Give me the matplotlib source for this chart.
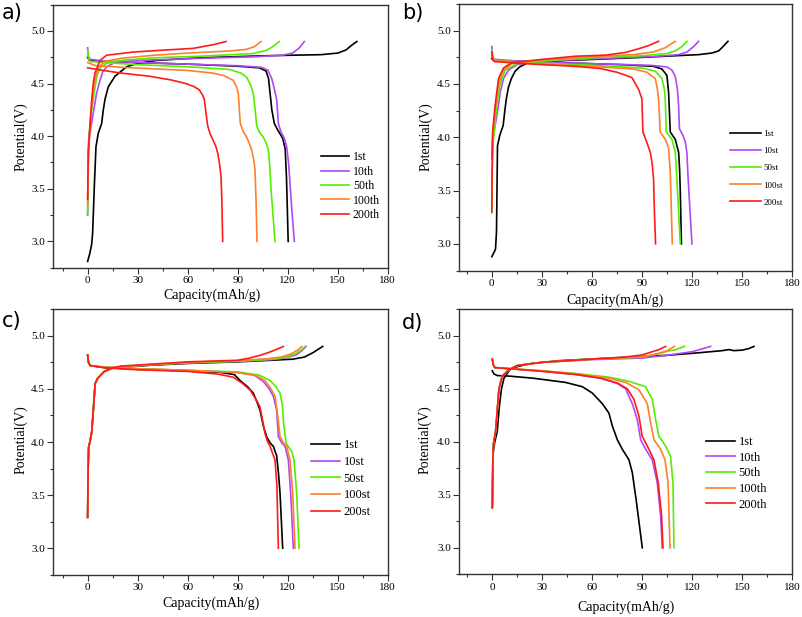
import matplotlib
matplotlib.use('Agg')
import matplotlib.pyplot as plt
from matplotlib.ticker import MultipleLocator

# ---------------- data: (capacity mAh/g, potential V) ----------------
# panel a
a1_chg = [(0, 2.81), (1.2, 2.88), (2.4, 2.97), (3, 3.08), (3.5, 3.3), (4, 3.52), (5, 3.9), (6.4, 4.03), (8.4, 4.12),
          (9.4, 4.25), (10.4, 4.35), (12.4, 4.47), (16.4, 4.57), (23.4, 4.66), (29.4, 4.69), (41, 4.72), (67, 4.745),
          (107, 4.765), (140, 4.775), (150, 4.79), (155, 4.82), (158, 4.86), (161.5, 4.90)]
a1_dis = [(0, 4.75), (1, 4.72), (10, 4.71), (30, 4.70), (60, 4.685), (90, 4.665), (103, 4.65), (107, 4.62), (108.5, 4.55),
          (109.5, 4.40), (110.5, 4.25), (112, 4.12), (114, 4.06), (117, 3.98), (118.5, 3.88), (119.3, 3.60), (120.3, 3.0)]
a10_chg = [(0, 3.25), (0.3, 3.6), (0.5, 3.87), (1.4, 4.03), (3.4, 4.22), (5.4, 4.41), (7.4, 4.53), (9, 4.61), (11.4, 4.66),
           (17, 4.705), (30, 4.72), (67, 4.74), (100, 4.755), (117, 4.77), (123, 4.79), (127, 4.84), (130, 4.90)]
a10_dis = [(0, 4.84), (0.5, 4.76), (1.5, 4.73), (10, 4.715), (30, 4.70), (60, 4.685), (90, 4.67), (104, 4.655), (108, 4.63),
           (110.4, 4.55), (112, 4.45), (113.4, 4.35), (114.4, 4.12), (116, 4.04), (118, 3.98), (119.4, 3.9), (120.5, 3.75),
           (121.2, 3.6), (122.5, 3.3), (124, 3.0)]
a50_chg = [(0, 3.26), (0.3, 3.7), (0.6, 3.95), (2, 4.2), (4, 4.42), (5.5, 4.57), (7.4, 4.65), (12, 4.70), (20, 4.72),
           (40, 4.745), (67, 4.76), (99, 4.785), (107, 4.815), (111, 4.85), (115, 4.90)]
a50_dis = [(0, 4.82), (0.5, 4.74), (1.5, 4.71), (10, 4.70), (30, 4.68), (60, 4.66), (85, 4.635), (92, 4.60), (95.4, 4.56),
           (98, 4.48), (99.4, 4.40), (100.5, 4.25), (101.4, 4.10), (103, 4.04), (105.4, 3.99), (107, 3.94), (108.4, 3.87),
           (109.3, 3.70), (110, 3.5), (112.4, 3.0)]
a100_chg = [(0, 3.35), (0.3, 3.75), (0.6, 3.95), (2, 4.22), (4, 4.5), (6, 4.64), (10, 4.71), (20, 4.74), (40, 4.77),
            (60, 4.79), (85, 4.81), (95, 4.825), (100, 4.85), (104, 4.90)]
a100_dis = [(0, 4.70), (5, 4.67), (20, 4.655), (40, 4.64), (60, 4.625), (75, 4.60), (82, 4.575), (87.4, 4.53), (89.5, 4.46),
            (90.4, 4.40), (91, 4.25), (91.6, 4.12), (93.5, 4.04), (95.4, 3.99), (97, 3.93), (98.4, 3.87), (99.6, 3.78),
            (100.4, 3.68), (101, 3.4), (101.6, 3.0)]
a200_chg = [(0, 3.4), (0.4, 3.85), (1, 4.0), (2.4, 4.34), (3.5, 4.52), (4.4, 4.60), (7.4, 4.72), (11.4, 4.77), (27.4, 4.80),
            (47.4, 4.82), (63.4, 4.835), (75.4, 4.87), (83, 4.90)]
a200_dis = [(0, 4.65), (7.4, 4.63), (20, 4.60), (37, 4.57), (50, 4.535), (59, 4.50), (64, 4.47), (67, 4.44), (69, 4.39),
            (70, 4.35), (71, 4.22), (72, 4.10), (73.5, 4.02), (75, 3.97), (77, 3.9), (78, 3.84), (79.3, 3.72), (80, 3.62),
            (80.5, 3.4), (81, 3.0)]

# panel b
b1_chg = [(0, 2.88), (1, 2.91), (2.2, 2.95), (2.8, 3.11), (3.1, 3.5), (3.4, 3.92), (4.8, 4.02), (6.8, 4.11), (7.8, 4.25),
          (8.7, 4.36), (10, 4.47), (11.7, 4.55), (14, 4.62), (16.7, 4.66), (21.7, 4.70), (44.5, 4.72), (84, 4.745),
          (124, 4.775), (132, 4.79), (136, 4.81), (138, 4.84), (141.6, 4.90)]
b1_dis = [(0, 4.74), (1, 4.72), (20, 4.71), (50, 4.695), (80, 4.68), (97, 4.665), (102, 4.64), (105, 4.58), (106, 4.42),
          (106.6, 4.2), (107, 4.05), (110, 3.98), (112, 3.86), (112.6, 3.7), (113, 3.5), (113.7, 3.0)]
b10_chg = [(0, 3.8), (0.5, 3.95), (1, 4.02), (3, 4.2), (5, 4.42), (7, 4.55), (10, 4.63), (15, 4.68), (25, 4.71),
           (60, 4.735), (100, 4.76), (112, 4.775), (117, 4.80), (121, 4.85), (124, 4.90)]
b10_dis = [(0, 4.85), (0.5, 4.76), (1.5, 4.73), (20, 4.71), (60, 4.69), (95, 4.675), (105, 4.66), (108, 4.63), (110, 4.57),
           (111.3, 4.45), (112, 4.3), (112.5, 4.08), (114.5, 4.02), (116, 3.96), (117, 3.85), (117.6, 3.65), (118.5, 3.4),
           (120, 3.0)]
b50_chg = [(0, 3.29), (0.3, 3.7), (0.8, 3.95), (3, 4.3), (5, 4.5), (8, 4.63), (15, 4.69), (30, 4.715), (60, 4.745),
           (90, 4.765), (105, 4.785), (110, 4.81), (114, 4.85), (117, 4.90)]
b50_dis = [(0, 4.82), (0.5, 4.75), (1.5, 4.72), (30, 4.695), (60, 4.675), (90, 4.65), (98, 4.62), (102, 4.55),
           (103.5, 4.45), (104, 4.36), (104.6, 4.05), (108, 3.98), (110, 3.86), (111, 3.6), (112, 3.3), (113, 3.0)]
b100_chg = [(0, 3.85), (0.6, 4.05), (2, 4.25), (4, 4.5), (7, 4.63), (12, 4.69), (30, 4.725), (60, 4.755), (85, 4.775),
            (97, 4.80), (104, 4.84), (110, 4.90)]
b100_dis = [(0, 4.80), (0.5, 4.74), (1.5, 4.72), (30, 4.685), (60, 4.665), (85, 4.64), (93, 4.61), (98, 4.55),
            (99.3, 4.45), (100, 4.36), (101, 4.05), (104, 3.98), (106, 3.9), (107, 3.67), (107.5, 3.4), (108.2, 3.0)]
b200_chg = [(0, 3.3), (0.2, 3.7), (0.5, 4.05), (2, 4.3), (4, 4.55), (7, 4.65), (12, 4.70), (30, 4.73), (50, 4.76),
            (68, 4.77), (80, 4.795), (88, 4.83), (94, 4.86), (100, 4.90)]
b200_dis = [(0, 4.80), (0.5, 4.73), (1.5, 4.71), (20, 4.69), (50, 4.665), (65, 4.645), (75, 4.61), (84, 4.56), (88, 4.45),
            (90, 4.36), (90.6, 4.05), (93, 3.95), (95, 3.86), (96.2, 3.75), (97, 3.6), (97.5, 3.3), (98.2, 3.0)]

# panel c
c1_chg = [(0, 3.29), (0.3, 3.75), (0.6, 3.95), (1.5, 4.01), (2.5, 4.1), (3.5, 4.32), (4.5, 4.55), (6, 4.6), (10, 4.665),
          (15, 4.695), (20, 4.705), (40, 4.725), (60, 4.74), (90, 4.755), (110, 4.77), (123, 4.78), (130, 4.80),
          (135, 4.84), (141, 4.90)]
c10_chg = [(0, 3.29), (0.3, 3.75), (0.6, 3.95), (1.5, 4.01), (2.5, 4.1), (3.5, 4.32), (4.5, 4.55), (6, 4.6), (10, 4.665),
           (15, 4.695), (20, 4.705), (40, 4.73), (60, 4.745), (90, 4.76), (110, 4.775), (118, 4.79), (125, 4.82),
           (128.5, 4.86), (131, 4.90)]
c50_chg = [(0, 3.29), (0.3, 3.75), (0.6, 3.95), (1.5, 4.01), (2.5, 4.1), (3.5, 4.32), (4.5, 4.55), (6, 4.6), (10, 4.665),
           (15, 4.695), (20, 4.71), (40, 4.73), (60, 4.745), (90, 4.76), (110, 4.78), (118, 4.795), (124, 4.825),
           (128, 4.865), (130.4, 4.90)]
c100_chg = [(0, 3.29), (0.3, 3.75), (0.6, 3.95), (1.5, 4.01), (2.5, 4.1), (3.5, 4.32), (4.5, 4.55), (6, 4.6), (10, 4.665),
            (15, 4.695), (20, 4.71), (40, 4.73), (60, 4.75), (90, 4.765), (108, 4.785), (116, 4.80), (122, 4.83),
            (126, 4.865), (128.4, 4.90)]
c200_chg = [(0, 3.29), (0.3, 3.75), (0.6, 3.95), (1.5, 4.01), (2.5, 4.1), (3.5, 4.32), (4.5, 4.55), (6, 4.6), (10, 4.665),
            (15, 4.70), (20, 4.715), (40, 4.735), (60, 4.755), (90, 4.77), (97, 4.79), (103, 4.815), (108, 4.84),
            (113, 4.87), (117.4, 4.90)]
c1_dis = [(0, 4.82), (0.5, 4.75), (1.5, 4.72), (10, 4.70), (30, 4.685), (60, 4.67), (80, 4.655), (88, 4.635), (91.4, 4.58),
          (96, 4.52), (99.4, 4.46), (101.5, 4.38), (103.4, 4.30), (105.4, 4.15), (107.4, 4.05), (109.5, 3.99),
          (111.4, 3.96), (113.4, 3.87), (114.5, 3.7), (115.4, 3.52), (117, 3.0)]
c10_dis = [(0, 4.82), (0.5, 4.75), (1.5, 4.72), (10, 4.705), (30, 4.69), (60, 4.675), (90, 4.655), (100, 4.63),
           (105.4, 4.57), (109, 4.5), (111.4, 4.43), (113.4, 4.30), (114.4, 4.05), (116.5, 3.99), (118.4, 3.96),
           (120.4, 3.83), (121.8, 3.52), (123.4, 3.0)]
c50_dis = [(0, 4.82), (0.5, 4.75), (1.5, 4.72), (10, 4.705), (30, 4.69), (60, 4.675), (90, 4.66), (103, 4.63),
           (109.4, 4.58), (113, 4.52), (115.4, 4.46), (116.8, 4.35), (117.4, 4.2), (119, 3.99), (122.4, 3.91),
           (123.8, 3.83), (125.4, 3.52), (126.8, 3.0)]
c100_dis = [(0, 4.82), (0.5, 4.75), (1.5, 4.72), (10, 4.705), (30, 4.69), (60, 4.675), (90, 4.655), (101, 4.625),
            (106.4, 4.58), (110, 4.5), (112.4, 4.43), (114.4, 4.2), (115.4, 4.05), (117.5, 3.99), (119.4, 3.96),
            (121.4, 3.83), (123, 3.52), (124.4, 3.0)]
c200_dis = [(0, 4.82), (0.5, 4.75), (1.5, 4.72), (10, 4.70), (30, 4.68), (60, 4.665), (78, 4.64), (87.4, 4.61), (93, 4.55),
            (97.4, 4.49), (101, 4.4), (103.4, 4.33), (105, 4.2), (106.4, 4.08), (108, 4.0), (109.4, 3.96), (112.4, 3.83),
            (113.5, 3.6), (114.4, 3.0)]

# panel d
d1_chg = [(0, 3.38), (0.5, 3.9), (1.5, 4.0), (3, 4.1), (4, 4.3), (5.5, 4.5), (7, 4.6), (10.5, 4.68), (15, 4.71), (24, 4.74),
          (40, 4.765), (64, 4.785), (85, 4.80), (104, 4.815), (124, 4.84), (138, 4.86), (142, 4.87), (145, 4.86),
          (150, 4.865), (154, 4.88), (157, 4.90)]
d1_dis = [(0, 4.67), (1, 4.64), (3, 4.625), (10, 4.62), (24.5, 4.60), (44, 4.56), (54, 4.52), (60, 4.46), (63, 4.41),
          (66, 4.36), (70, 4.27), (72, 4.15), (75, 4.02), (78, 3.93), (82, 3.83), (84, 3.71), (86.5, 3.43), (90, 3.0)]
d10_chg = [(0, 3.38), (0.3, 3.8), (0.7, 3.98), (2, 4.1), (3, 4.3), (4, 4.5), (6, 4.62), (10, 4.68), (15, 4.72), (30, 4.75),
           (60, 4.775), (90, 4.79), (104, 4.815), (120, 4.85), (131, 4.90)]
d10_dis = [(0, 4.78), (0.5, 4.73), (1.5, 4.70), (10, 4.69), (30, 4.665), (50, 4.635), (65, 4.60), (75, 4.55), (80, 4.50),
           (84, 4.36), (87, 4.21), (89, 4.02), (92, 3.93), (96, 3.83), (99, 3.61), (101, 3.3), (102, 3.0)]
d50_chg = [(0, 3.38), (0.3, 3.8), (0.7, 3.98), (2, 4.1), (3, 4.3), (4, 4.5), (6, 4.62), (10, 4.68), (15, 4.72), (30, 4.75),
           (60, 4.78), (90, 4.80), (100, 4.83), (104, 4.85), (110, 4.87), (115.3, 4.90)]
d50_dis = [(0, 4.78), (0.5, 4.73), (1.5, 4.70), (10, 4.69), (30, 4.67), (50, 4.645), (70, 4.61), (82, 4.57), (92, 4.52),
           (96, 4.40), (98, 4.21), (100, 4.05), (104, 3.96), (107, 3.86), (108.4, 3.61), (109, 3.0)]
d100_chg = [(0, 3.38), (0.3, 3.8), (0.7, 3.98), (2, 4.1), (3, 4.3), (4, 4.5), (6, 4.62), (10, 4.68), (15, 4.72), (30, 4.75),
            (60, 4.78), (90, 4.80), (100, 4.835), (105, 4.86), (109.3, 4.90)]
d100_dis = [(0, 4.78), (0.5, 4.73), (1.5, 4.70), (10, 4.69), (30, 4.67), (50, 4.64), (70, 4.60), (80, 4.56), (88, 4.49),
            (93, 4.36), (95, 4.18), (97, 4.02), (101, 3.93), (103.6, 3.83), (105.5, 3.61), (106.6, 3.0)]
d200_chg = [(0, 3.38), (0.3, 3.8), (0.7, 3.98), (2, 4.1), (3, 4.3), (4, 4.5), (6, 4.62), (10, 4.68), (15, 4.72), (30, 4.75),
            (60, 4.78), (80, 4.80), (90, 4.82), (96, 4.85), (100, 4.87), (104, 4.90)]
d200_dis = [(0, 4.78), (0.5, 4.73), (1.5, 4.70), (10, 4.69), (30, 4.665), (50, 4.635), (65, 4.60), (75, 4.555), (81, 4.50),
            (85, 4.40), (88, 4.24), (90, 4.05), (93, 3.96), (97, 3.83), (99.6, 3.61), (101.6, 3.3), (102.4, 3.0)]

labels_th = ['1st', '10th', '50th', '100th', '200th']
labels_st = ['1st', '10st', '50st', '100st', '200st']
colors = ['#000000', '#B048F5', '#55EE00', '#FF7F2A', '#FF1A1A']

# ---------------- layout (pixels of the 803x617 picture) ----------------
W, H = 803, 617
serif = 'Liberation Serif'


def fx(x):
    return x / W


def fy(y):
    return 1 - y / H


fig = plt.figure(figsize=(W / 100, H / 100), dpi=100)


def make_panel(box, xlim, curves, labels, tag, tag_xy, xlab_xy, ylab_xy, leg):
    left, top, right, bottom = box
    ax = fig.add_axes([fx(left), fy(bottom), (right - left) / W, (bottom - top) / H])
    for (chg, dis), lab, col in zip(curves, labels, colors):
        ax.plot([p[0] for p in chg], [p[1] for p in chg], color=col, lw=1.2, label=lab)
        ax.plot([p[0] for p in dis], [p[1] for p in dis], color=col, lw=1.2)
    ax.set_xlim(*xlim)
    ax.set_ylim(2.75, 5.25)
    ax.xaxis.set_major_locator(MultipleLocator(30))
    ax.xaxis.set_minor_locator(MultipleLocator(15))
    ax.yaxis.set_major_locator(MultipleLocator(0.5))
    ax.yaxis.set_minor_locator(MultipleLocator(0.25))
    ax.set_xticks([0, 30, 60, 90, 120, 150, 180])
    ax.set_yticks([3.0, 3.5, 4.0, 4.5, 5.0])
    ax.tick_params(which='major', direction='out', length=4, width=0.8, labelsize=8, pad=2, color='#333333')
    ax.tick_params(which='minor', direction='out', length=2.5, width=0.8, color='#333333')
    for lbl in ax.get_xticklabels() + ax.get_yticklabels():
        lbl.set_fontfamily(serif)
    for s in ax.spines.values():
        s.set_linewidth(1.0)
        s.set_color('#333333')
    fig.text(fx(xlab_xy[0]), fy(xlab_xy[1]), 'Capacity(mAh/g)', family=serif, fontsize=10, ha='center', va='center')
    fig.text(fx(ylab_xy[0]), fy(ylab_xy[1]), 'Potential(V)', family=serif, fontsize=10, ha='center', va='center',
             rotation=90)
    fig.text(fx(tag_xy[0]), fy(tag_xy[1]), tag, family='DejaVu Sans', fontsize=15, ha='left', va='top')
    lx, ly, fs, hl, ls = leg
    ax.legend(loc='upper left', bbox_to_anchor=(fx(lx), fy(ly)), bbox_transform=fig.transFigure, frameon=False,
              borderpad=0, borderaxespad=0, handlelength=hl, handletextpad=0.3, labelspacing=ls,
              prop={'family': serif, 'size': fs})
    return ax


curves_a = [(a1_chg, a1_dis), (a10_chg, a10_dis), (a50_chg, a50_dis), (a100_chg, a100_dis), (a200_chg, a200_dis)]
curves_b = [(b1_chg, b1_dis), (b10_chg, b10_dis), (b50_chg, b50_dis), (b100_chg, b100_dis), (b200_chg, b200_dis)]
curves_c = [(c1_chg, c1_dis), (c10_chg, c10_dis), (c50_chg, c50_dis), (c100_chg, c100_dis), (c200_chg, c200_dis)]
curves_d = [(d1_chg, d1_dis), (d10_chg, d10_dis), (d50_chg, d50_dis), (d100_chg, d100_dis), (d200_chg, d200_dis)]

make_panel((53.3, 4.7, 387.7, 267.7), (-20.6, 180), curves_a, labels_th, 'a)', (2, 3), (211.7, 295), (20.7, 137),
           (321, 151.5, 8.5, 2.4, 0.2))
make_panel((459.3, 4.0, 792.0, 270.5), (-19.5, 180), curves_b, labels_st, 'b)', (402, 3), (615, 300), (426, 137),
           (730, 130, 6.5, 3.4, 0.97))
make_panel((53.3, 309.3, 387.7, 574.7), (-20.6, 180), curves_c, labels_st, 'c)', (2, 311), (211, 603), (20.7, 440),
           (311, 439.5, 9, 2.3, 0.37))
make_panel((459.3, 309.3, 792.3, 574.3), (-19.8, 180), curves_d, labels_th, 'd)', (402, 313), (626, 607), (425, 440),
           (706, 436, 9, 2.3, 0.29))

fig.savefig('out.png', dpi=100)
